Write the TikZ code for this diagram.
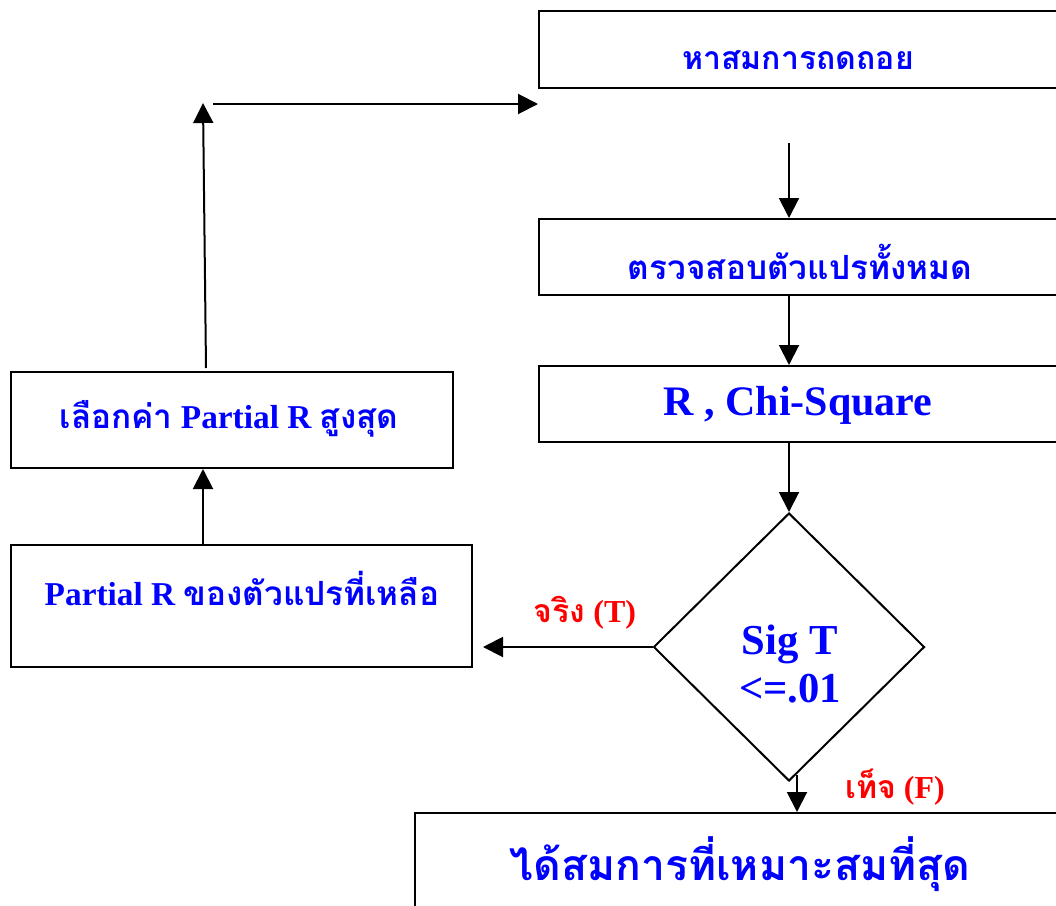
\documentclass[tikz,border=0pt]{standalone}
\usepackage{fontspec}
\setmainfont{Liberation Serif}
\newfontfamily\thai[Script=Thai]{Loma}
\usetikzlibrary{arrows.meta,shapes.geometric}
\definecolor{tblue}{RGB}{0,0,255}
\definecolor{tred}{RGB}{255,0,0}
\begin{document}
\begin{tikzpicture}[x=0.75pt,y=-0.75pt,
  box/.style={draw=black,line width=1.5pt,rectangle,inner sep=0pt},
  txt/.style={text=tblue,font=\bfseries,inner sep=0pt,align=center},
  lab/.style={text=tred,font=\bfseries,inner sep=0pt},
  arr/.style={line width=1.5pt,-{Triangle[length=15pt,width=15pt]}},
  ln/.style={line width=1.5pt}]
\useasboundingbox (0,0) rectangle (1056,906);
\clip (0,0) rectangle (1056,906);
% boxes
\node[box,minimum width=390.75pt,minimum height=57.75pt] (b1) at (799.5,49.5) {};
\node[box,minimum width=390.75pt,minimum height=57pt] (b2) at (799.5,257) {};
\node[box,minimum width=390.75pt,minimum height=57pt] (b3) at (799.5,404) {};
\node[draw=black,line width=1.5pt,diamond,shape aspect=1.01,minimum width=203.25pt,minimum height=201pt,inner sep=0pt] (d) at (789,647) {};
\node[box,minimum width=345.75pt,minimum height=91.5pt] (b5) at (241.5,606) {};
\node[box,minimum width=331.5pt,minimum height=72pt] (b4) at (232,420) {};
\node[box,minimum width=483.75pt,minimum height=75pt] (b6) at (737.5,863) {};
% texts
\node[txt] (t1) at (798,60) {\fontsize{24}{28}\thai หาสมการถดถอย};
\node[txt] (t2) at (800,262) {\fontsize{25}{28}\thai ตรวจสอบตัวแปรทั้งหมด};
\node[txt] (t3) at (798,405) {\fontsize{31.5}{34}\selectfont R , Chi-Square};
\node[txt,font=\bfseries\fontsize{32}{36}\selectfont] (td) at (790,664) {Sig T\\{<=.01}};
\node[txt] (t5) at (242,589) {\fontsize{25}{30}\selectfont Partial R {\thai ของตัวแปรที่เหลือ}};
\node[txt] (t4) at (229,419) {\fontsize{25}{30}\selectfont {\thai เลือกค่า} Partial R {\thai สูงสุด}};
\node[txt] (t6) at (740,864) {\fontsize{32}{38}\thai ได้สมการที่เหมาะสมที่สุด};
\node[lab] (lt) at (585,613) {\fontsize{24}{28}\selectfont {\thai จริง} (T)};
\node[lab] (lf) at (895,787) {\fontsize{24}{28}\selectfont {\thai เท็จ} (F)};
% connectors
\coordinate (s1) at (789,143);
\draw[arr] (s1) -- (b2.north -| s1);
\draw[arr] (b2.south -| s1) -- (b3.north -| s1);
\draw[arr] (b3.south -| s1) -- (d.north);
\coordinate (e4) at (483,646);
\draw[arr] (d.west) -- (d.west -| e4);
\draw[arr] (b5.north -| 203,0) -- (b4.south -| 203,0);
\coordinate (u0) at (206,368);
\coordinate (u1) at (203,103);
\draw[arr] (u0) -- (u1);
\coordinate (h0) at (213,104);
\draw[arr] (h0) -- (b1.west |- h0);
\coordinate (f0) at (797,775);
\draw[arr] (f0) -- (b6.north -| f0);
\end{tikzpicture}
\end{document}
